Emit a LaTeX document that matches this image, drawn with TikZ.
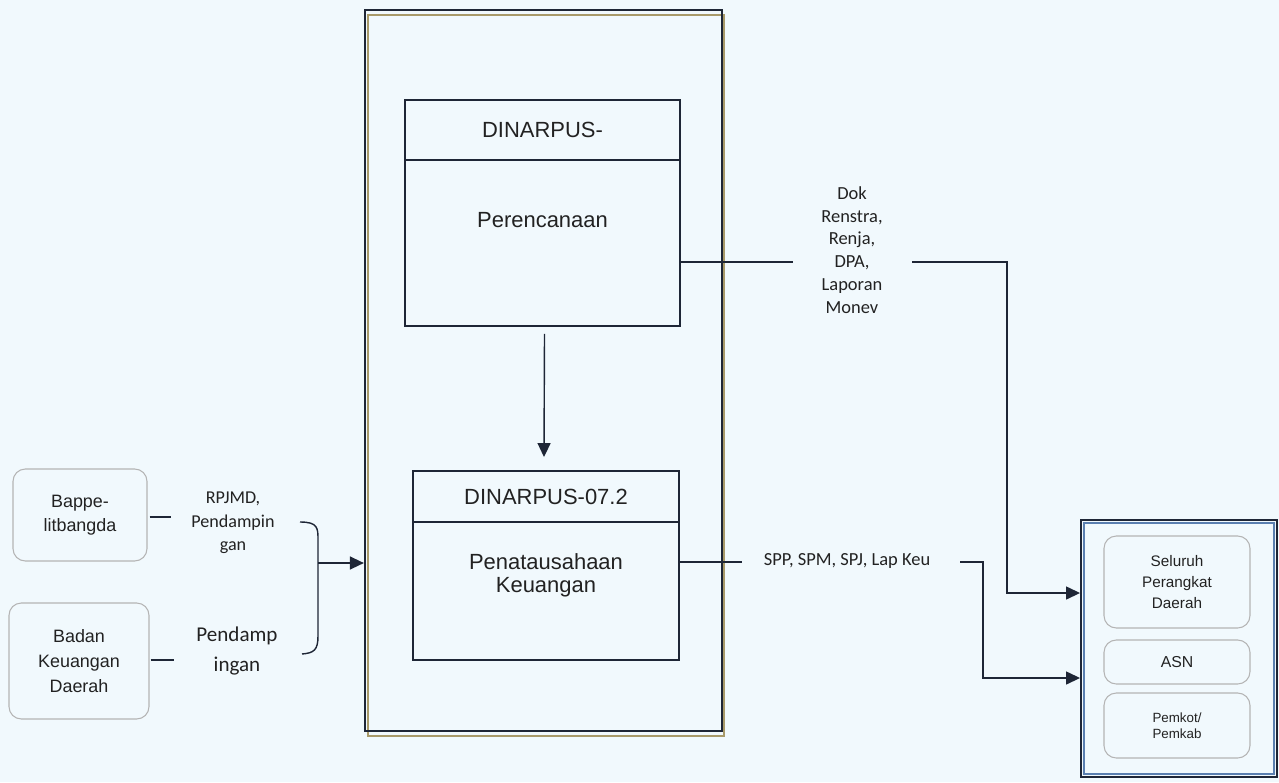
\documentclass[tikz,border=0pt]{standalone}
\usepackage{fontspec}
\setmainfont{Liberation Sans}
\newfontfamily\lab{Carlito}
\usetikzlibrary{arrows.meta,calc}
\definecolor{bg}{HTML}{F1F9FD}
\definecolor{ink}{HTML}{1E2636}
\definecolor{txt}{HTML}{222222}
\definecolor{olive}{HTML}{A89A6A}
\definecolor{blueline}{HTML}{5A7FB0}
\definecolor{soft}{HTML}{B4B4B4}
\tikzset{
  box/.style={draw=ink, line width=1.1pt, inner sep=0pt},
  rbox/.style={draw=soft, line width=0.6pt, rounded corners=7pt, inner sep=0pt, align=center, text=txt},
  conn/.style={draw=ink, line width=0.8pt},
  arr/.style={conn, -{Triangle[length=2.8mm,width=2.6mm]}},
  boxtext/.style={text=txt, font=\fontsize{12.5}{15}\selectfont, align=center},
  labtext/.style={text=txt, align=center, inner sep=0pt}
}
\begin{document}
\begin{tikzpicture}[x=0.02cm,y=-0.02cm]
\useasboundingbox (0,0) rectangle (1279,782);
\fill[bg] (0,0) rectangle (1279,782);

% outer large box (double)
\draw[olive, line width=1pt] (368,15) rectangle (724,736);
\node[box, line width=1.3pt, minimum width=7.14cm, minimum height=14.42cm] (outer) at (543.5,370.5) {};

% Perencanaan box
\node[box, minimum width=5.5cm, minimum height=1.2cm, font=\fontsize{12.5}{15}\selectfont, text=txt] (pt) at (542.5,130) {DINARPUS-};
\node[box, minimum width=5.5cm, minimum height=3.32cm] (pb) at (542.5,243) {};
\node[boxtext] (ptext) at (542.5,220) {Perencanaan};

% Penatausahaan box
\node[box, minimum width=5.32cm, minimum height=1.02cm, font=\fontsize{12.5}{15}\selectfont, text=txt] (kt) at (546,496.5) {DINARPUS-07.2};
\node[box, minimum width=5.32cm, minimum height=2.76cm] (kb) at (546,591) {};
\node[boxtext, font=\fontsize{12.5}{13.3}\selectfont] (ktext) at (546,575) {Penatausahaan\\Keuangan};

% down arrow
\draw[arr] ($(pb.south)+(2,7)$) -- ($(kt.north)+(-2,-13)$);

% left boxes
\node[rbox, minimum width=2.68cm, minimum height=1.84cm, font=\fontsize{10.2}{14}\selectfont] (bappe) at (80,515) {Bappe-\\litbangda};
\node[rbox, minimum width=2.8cm, minimum height=2.32cm, font=\fontsize{10.2}{14}\selectfont] (badan) at (79,661) {Badan\\Keuangan\\Daerah};

\draw[conn] ($(bappe.east)+(2,2)$) -- +(21,0);
\draw[conn] ($(badan.east)+(1,-1)$) -- +(23,0);

\node[labtext, font=\lab\fontsize{10.3}{13.3}\selectfont] (lrpj) at (233,523) {RPJMD,\\Pendampin\\gan};
\node[labtext, font=\lab\fontsize{12}{17}\selectfont] (lpen) at (237,651) {Pendamp\\ingan};

% brace
\coordinate (br1) at (300,522);
\coordinate (br2) at (302,654);
\coordinate (brm) at (318,563);
\draw[conn] (br1) .. controls (318,522) and (318,528) .. (318,540) -- (318,636) .. controls (318,650) and (314,653) .. (br2);
\draw[arr] (brm) -- (outer.west |- brm);

% right box
\node[box, line width=1.1pt, minimum width=3.92cm, minimum height=5.14cm] (right) at (1179,648.5) {};
\draw[blueline, line width=0.6pt] (1084,523) rectangle (1274,774);
\node[rbox, minimum width=2.92cm, minimum height=1.84cm, font=\fontsize{8.7}{12}\selectfont] (selu) at (1177,582) {Seluruh\\Perangkat\\Daerah};
\node[rbox, minimum width=2.92cm, minimum height=0.88cm, font=\fontsize{9}{11}\selectfont] (asn) at (1177,662) {ASN};
\node[rbox, minimum width=2.92cm, minimum height=1.3cm, font=\fontsize{7.6}{9.2}\selectfont] (pemkot) at (1177,725.5) {Pemkot/\\Pemkab};

% Dok label and connector
\node[labtext, font=\lab\fontsize{10.5}{13}\selectfont] (dok) at (852,250) {Dok\\Renstra,\\Renja,\\DPA,\\Laporan\\Monev};
\coordinate (yD) at (0,262);
\coordinate (dA) at (793,262);
\coordinate (dB) at (912,262);
\coordinate (dC) at (1007,262);
\coordinate (yR1) at (0,593);
\draw[conn] (pb.east |- yD) -- (dA);
\draw[arr] (dB) -- (dC) -- (dC |- yR1) -- (right.west |- yR1);

% SPP label and connector
\node[labtext, font=\lab\fontsize{10.5}{13}\selectfont] (spp) at (847,561) {SPP, SPM, SPJ, Lap Keu};
\coordinate (yS) at (0,562);
\coordinate (sA) at (742,562);
\coordinate (sB) at (960,562);
\coordinate (sC) at (983,562);
\coordinate (yR2) at (0,678);
\draw[conn] (kb.east |- yS) -- (sA);
\draw[arr] (sB) -- (sC) -- (sC |- yR2) -- (right.west |- yR2);
\end{tikzpicture}
\end{document}
